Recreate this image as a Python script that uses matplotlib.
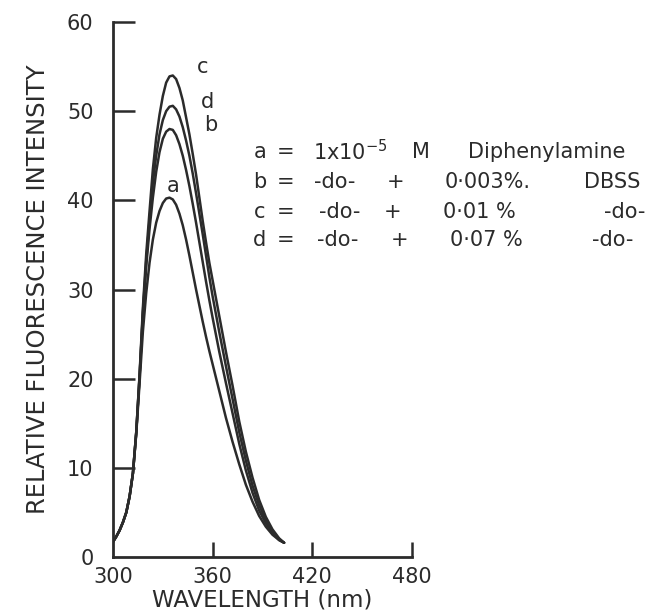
import matplotlib
matplotlib.use("Agg")
import matplotlib.pyplot as plt

# Wavelength grid (nm)
wavelength = [300, 302, 304, 306, 308, 310, 312, 314, 316, 318, 320, 322, 324, 326,
              328, 330, 332, 334, 336, 338, 340, 342, 344, 346, 348, 350, 352, 354,
              356, 358, 360, 364, 368, 372, 376, 380, 384, 388, 392, 396, 400, 403]

curve_a = [1.7, 2.3, 3.0, 3.9, 5.0, 6.8, 9.4, 13.8, 19.5, 25.3, 29.6, 33.0, 35.6, 37.5,
           38.8, 39.7, 40.2, 40.3, 40.1, 39.5, 38.5, 37.2, 35.6, 33.8, 31.9, 30.0, 28.2, 26.4,
           24.7, 23.1, 21.6, 18.6, 15.6, 12.9, 10.4, 8.1, 6.2, 4.6, 3.4, 2.5, 1.9, 1.6]
curve_b = [1.7, 2.3, 3.0, 3.9, 5.0, 6.8, 9.4, 14.0, 20.2, 27.2, 32.6, 36.8, 40.3, 43.2,
           45.4, 46.9, 47.7, 48.0, 47.9, 47.3, 46.3, 45.0, 43.4, 41.6, 39.6, 37.5, 35.3, 33.1,
           30.9, 28.8, 26.8, 23.0, 19.5, 16.1, 12.7, 9.7, 7.2, 5.2, 3.8, 2.7, 1.9, 1.6]
curve_c = [1.7, 2.3, 3.0, 3.9, 5.0, 6.8, 9.4, 14.0, 20.5, 28.0, 34.0, 38.8, 43.5, 47.0,
           49.6, 51.7, 53.2, 53.9, 54.0, 53.6, 52.6, 51.2, 49.3, 47.4, 45.2, 42.9, 40.3, 37.7,
           35.3, 33.0, 31.0, 27.0, 23.0, 19.2, 15.2, 11.8, 8.9, 6.4, 4.5, 3.1, 2.1, 1.6]
curve_d = [1.7, 2.3, 3.0, 3.9, 5.0, 6.8, 9.4, 14.0, 20.3, 27.5, 33.2, 37.8, 42.0, 45.0,
           47.4, 49.0, 50.0, 50.5, 50.6, 50.2, 49.4, 48.2, 46.7, 45.0, 43.0, 40.8, 38.5, 36.2,
           33.8, 31.4, 29.2, 25.2, 21.4, 17.7, 14.0, 10.8, 8.0, 5.8, 4.1, 2.9, 2.0, 1.6]

curve_labels = ["a", "b", "c", "d"]
label_pos = {"c": (354, 54.9), "d": (357, 51.0), "b": (359, 48.4), "a": (336, 41.6)}

x_ticks = [300, 360, 420, 480]
y_ticks = [0, 10, 20, 30, 40, 50, 60]

legend_rows = [
    ["a", "=", r"1x10$^{-5}$", "M", "Diphenylamine"],
    ["b", "=", "-do-", "+", "0·003%.", "DBSS"],
    ["c", "=", "-do-", "+", "0·01 %", "-do-"],
    ["d", "=", "-do-", "+", "0·07 %", "-do-"],
]

ink = "#2b2b2b"
W, H = 654, 613
fig = plt.figure(figsize=(W / 100, H / 100), dpi=100)
ax = fig.add_axes([113 / W, 1 - 557 / H, (412 - 113) / W, (557 - 22) / H])

for ys in (curve_a, curve_b, curve_d, curve_c):
    ax.plot(wavelength, ys, color=ink, lw=1.8, solid_capstyle="round")

for lab in curve_labels:
    x, y = label_pos[lab]
    ax.text(x, y, lab, fontsize=15, color=ink, ha="center", va="center")

ax.set_xlim(300, 480)
ax.set_ylim(0, 60)
ax.spines["top"].set_visible(False)
ax.spines["right"].set_visible(False)
for s in ("left", "bottom"):
    ax.spines[s].set_linewidth(2)
    ax.spines[s].set_color(ink)

ax.set_xticks(x_ticks)
ax.set_yticks(y_ticks)
ax.tick_params(axis="y", direction="in", length=16, width=1.8, color=ink,
               labelsize=15, labelcolor=ink, pad=14)
ax.tick_params(axis="x", direction="in", length=11, width=1.8, color=ink,
               labelsize=15, labelcolor=ink, pad=7)
# hide overlapping ticks at the origin
ax.yaxis.get_major_ticks()[0].tick1line.set_visible(False)
ax.xaxis.get_major_ticks()[0].tick1line.set_visible(False)

ax.set_xlabel("WAVELENGTH (nm)", fontsize=16.5, color=ink, labelpad=1)
ax.set_ylabel("RELATIVE FLUORESCENCE INTENSITY", fontsize=17.5, color=ink, labelpad=12)

# legend-like annotation (token centres in figure pixel coordinates)
col_x = [
    [260, 286, 350, 421, 547],
    [260, 286, 335, 396, 488, 612],
    [260, 286, 340, 393, 479, 625],
    [260, 286, 338, 400, 486, 613],
]
row_y = [152, 182, 212, 240]
for row, xs, yy in zip(legend_rows, col_x, row_y):
    for tok, xx in zip(row, xs):
        fig.text(xx / W, 1 - yy / H, tok, fontsize=15, color=ink, ha="center", va="center")

fig.savefig("out.png", dpi=100, facecolor="white")
